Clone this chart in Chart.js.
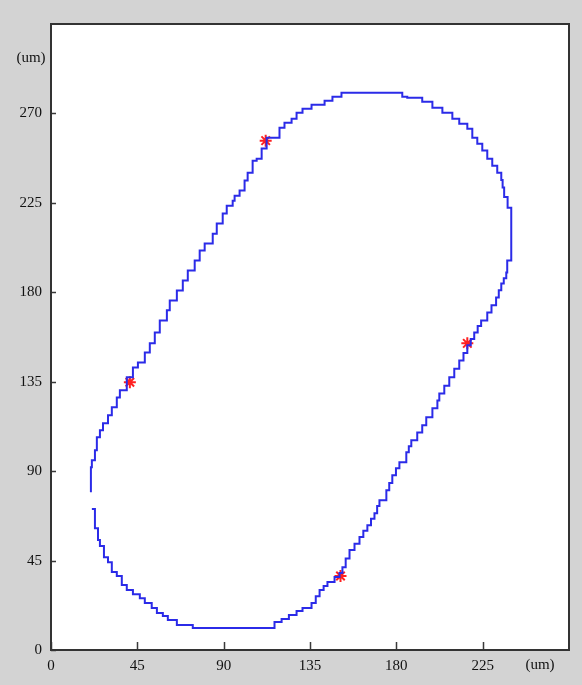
<!DOCTYPE html>
<html>
<head>
<meta charset="utf-8">
<script src="https://cdn.jsdelivr.net/npm/chart.js@4"></script>
<style>
  html, body { margin: 0; padding: 0; background: #d3d3d3; }
  canvas { display: block; }
</style>
</head>
<body>
<canvas id="contourChart" width="582" height="685"></canvas>
<script>
// Contour outline (um), traced counter-clockwise from the gap on the left side
const outlineX = [
    21.3, 22.9, 24.5, 25.5, 27.6, 29.7, 31.7, 34.3, 36.9, 39.5, 42.7, 46.3, 48.9, 52.5, 55.2, 58.3, 60.9, 65.6, 73.9, 112.4,
    116.5, 120.2, 124.0, 128.0, 131.1, 135.8, 138.0, 140.0, 142.1, 144.1, 147.8, 150.4, 151.9, 153.6, 155.6, 158.2, 160.8, 162.8, 164.9, 166.8,
    168.6, 170.0, 171.2, 174.8, 176.3, 177.9, 179.8, 181.6, 185.2, 186.5, 187.8, 190.9, 193.5, 195.6, 198.8, 201.4, 202.4, 205.0, 207.6, 210.2,
    212.8, 215.0, 217.0, 218.8, 220.6, 222.4, 224.2, 227.4, 229.6, 232.0, 233.4, 234.7, 236.0, 237.3, 237.8, 239.9, 239.9,
    238.0, 236.2, 235.4, 234.7, 232.6, 230.0, 227.4, 224.8, 222.2, 219.6, 217.0, 212.8, 209.2, 204.0, 198.8, 193.5, 185.7, 183.1, 151.4,
    151.4, 146.7, 142.6, 135.8, 131.1, 128.0, 125.4, 121.7, 119.1, 115.0, 112.4, 109.8, 107.2, 105.1, 102.5, 100.9, 98.3, 95.7,
    94.7, 91.6, 89.5, 86.4, 84.3, 80.1, 77.5, 74.9, 71.3, 68.7, 65.6, 61.9, 60.4, 56.7, 54.1, 51.5, 48.9, 45.3, 42.7, 39.5,
    35.9, 34.3, 31.7, 29.7, 27.1, 25.5, 23.9, 22.9, 21.3, 20.8
];
const outlineY = [
    70.9, 61.3, 55.3, 52.3, 46.7, 44.2, 39.2, 37.2, 32.7, 30.2, 28.1, 26.1, 23.6, 21.1, 18.6, 17.1, 15.1, 12.6, 11.1, 11.1,
    14.1, 15.6, 17.6, 19.6, 21.1, 23.6, 27.0, 30.2, 32.2, 34.2, 36.7, 38.7, 41.7, 46.0, 50.3, 53.5, 56.8, 60.0, 62.8, 66.0,
    68.8, 72.5, 75.4, 80.4, 84.0, 87.9, 91.5, 94.5, 99.5, 102.5, 105.5, 109.5, 113.1, 117.1, 121.6, 125.6, 129.1, 133.0, 137.2, 141.5,
    145.7, 149.5, 153.3, 156.5, 159.8, 163.0, 165.8, 169.8, 173.5, 177.4, 181.0, 184.4, 187.0, 190.0, 196.0, 202.0, 222.6,
    228.0, 232.7, 236.5, 240.2, 243.7, 247.2, 251.3, 254.8, 257.8, 262.3, 264.8, 267.3, 270.4, 272.9, 275.9, 277.9, 278.4, 280.4, 280.4,
    278.4, 276.4, 274.4, 272.4, 270.4, 267.3, 265.3, 262.8, 257.8, 257.8, 252.3, 247.2, 246.2, 240.2, 236.2, 231.2, 228.6, 226.1,
    223.6, 219.6, 214.6, 209.5, 204.5, 201.0, 196.0, 191.0, 185.9, 180.9, 175.9, 170.9, 165.8, 159.8, 154.3, 149.7, 144.7, 142.2, 137.2, 130.7,
    127.1, 122.1, 118.1, 114.1, 110.6, 107.0, 100.5, 95.5, 92.0, 79.4
];

// Red star markers on the outline
const markerX = [111.9, 41.1, 150.9, 217.0];
const markerY = [256.3, 134.7, 37.2, 154.3];

// Tick values on both axes
const xTicks = [0, 45, 90, 135, 180, 225];
const yTicks = [0, 45, 90, 135, 180, 225, 270];
const unitLabel = '(um)';

const FONT = { family: '"Liberation Serif", "Times New Roman", serif', size: 15 };

const framePlugin = {
    id: 'frame',
    beforeDraw(chart) {
        const ctx = chart.ctx;
        const a = chart.chartArea;
        ctx.save();
        ctx.fillStyle = '#d3d3d3';
        ctx.fillRect(0, 0, chart.width, chart.height);
        ctx.fillStyle = '#ffffff';
        ctx.fillRect(a.left, a.top, a.right - a.left, a.bottom - a.top);
        ctx.restore();
    },
    afterDraw(chart) {
        const ctx = chart.ctx;
        const a = chart.chartArea;
        const xs = chart.scales.x;
        const ys = chart.scales.y;
        ctx.save();
        ctx.strokeStyle = '#3a3a3a';
        ctx.lineWidth = 1.5;
        // inward tick marks
        ctx.beginPath();
        xTicks.forEach(v => {
            const px = Math.round(xs.getPixelForValue(v)) + 0.5;
            ctx.moveTo(px, a.bottom);
            ctx.lineTo(px, a.bottom - 8);
        });
        yTicks.forEach(v => {
            const py = Math.round(ys.getPixelForValue(v)) + 0.5;
            ctx.moveTo(a.left, py);
            ctx.lineTo(a.left + 5, py);
        });
        ctx.stroke();
        // box
        ctx.lineWidth = 2;
        ctx.strokeStyle = '#333333';
        ctx.strokeRect(a.left, a.top, a.right - a.left, a.bottom - a.top);
        // unit labels
        ctx.fillStyle = '#111111';
        ctx.font = FONT.size + 'px ' + FONT.family;
        ctx.textAlign = 'center';
        ctx.textBaseline = 'middle';
        ctx.fillText(unitLabel, 31, 58);
        ctx.fillText(unitLabel, 540, 665);
        ctx.restore();
    }
};

new Chart(document.getElementById('contourChart'), {
    type: 'scatter',
    data: {
        datasets: [
            {
                label: 'outline',
                data: outlineX.map((x, i) => ({ x: x, y: outlineY[i] })),
                showLine: true,
                stepped: true,
                borderColor: '#2b2be8',
                borderWidth: 2,
                pointRadius: 0,
                fill: false
            },
            {
                label: 'markers',
                data: markerX.map((x, i) => ({ x: x, y: markerY[i] })),
                showLine: false,
                pointStyle: 'star',
                pointRadius: 6,
                borderColor: '#ff2020',
                backgroundColor: '#ff2020',
                borderWidth: 2
            }
        ]
    },
    plugins: [framePlugin],
    options: {
        responsive: false,
        animation: false,
        layout: { padding: { top: 24, right: 13, left: 0, bottom: 0 } },
        plugins: {
            legend: { display: false },
            tooltip: { enabled: false }
        },
        scales: {
            x: {
                type: 'linear',
                min: 0,
                max: 270,
                afterBuildTicks: scale => { scale.ticks = xTicks.map(v => ({ value: v })); },
                afterFit: scale => { scale.height = 35; },
                grid: { display: false, drawTicks: false },
                border: { display: false },
                ticks: { color: '#111111', font: FONT, padding: 7, maxRotation: 0, autoSkip: false }
            },
            y: {
                type: 'linear',
                min: 0,
                max: 315,
                afterBuildTicks: scale => { scale.ticks = yTicks.map(v => ({ value: v })); },
                afterFit: scale => { scale.width = 51; },
                grid: { display: false, drawTicks: false },
                border: { display: false },
                ticks: { color: '#111111', font: FONT, padding: 9, autoSkip: false }
            }
        }
    }
});
</script>
</body>
</html>
